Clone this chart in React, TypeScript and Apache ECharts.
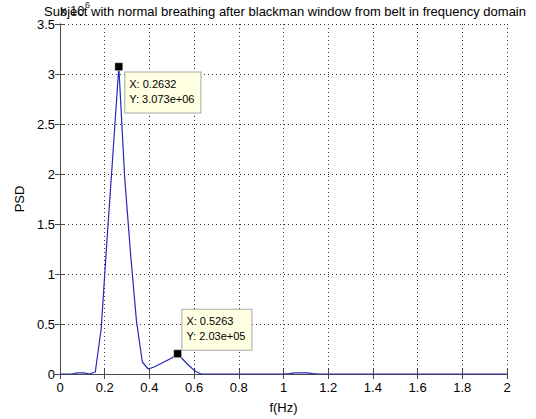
import React, { useEffect, useRef } from "react";
import * as echarts from "echarts";

// Frequency bins (Hz)
const freqs = [
  0, 0.0263, 0.0526, 0.0789, 0.1053, 0.1316, 0.1579, 0.1842, 0.2105, 0.2368,
  0.2632, 0.2895, 0.3158, 0.3421, 0.3684, 0.3947, 0.4211, 0.4474, 0.4737, 0.5,
  0.5263, 0.5526, 0.5789, 0.6053, 0.6316, 0.6579, 0.6842, 0.7105, 0.7368, 0.7632,
  0.7895, 0.8158, 0.8421, 0.8684, 0.8947, 0.9211, 0.9474, 0.9737, 1.0, 1.0263,
  1.0526, 1.0789, 1.1053, 1.1316, 1.1579, 1.1842, 1.2105, 1.2368, 1.2632, 1.2895,
  1.3158, 1.3421, 1.3684, 1.3947, 1.4211, 1.4474, 1.4737, 1.5, 1.5263, 1.5526,
  1.5789, 1.6053, 1.6316, 1.6579, 1.6842, 1.7105, 1.7368, 1.7632, 1.7895, 1.8158,
  1.8421, 1.8684, 1.8947, 1.9211, 1.9474, 1.9737, 2.0,
];

// PSD values
const psd = [
  0, 0, 0, 12000, 12000, 0, 20000, 450000, 1350000, 2200000,
  3073000, 1960000, 1200000, 530000, 120000, 50000, 70000, 100000, 130000, 160000,
  203000, 140000, 80000, 27000, 0, 0, 0, 0, 0, 0,
  0, 0, 0, 0, 0, 0, 0, 0, 0, 3000,
  12000, 12000, 12000, 3000, 0, 0, 0, 0, 0, 0,
  0, 0, 0, 0, 0, 0, 0, 0, 0, 0,
  0, 0, 0, 0, 0, 0, 0, 0, 0, 0,
  0, 0, 0, 0, 0, 0, 0,
];

// Data tips
const tipX = [0.2632, 0.5263];
const tipY = [3073000, 203000];
const tipOffsets = [
  [10.7, 10],
  [9, -39.7],
];

const yTicks = ["0", "0.5", "1", "1.5", "2", "2.5", "3", "3.5"];
const xTicks = ["0", "0.2", "0.4", "0.6", "0.8", "1", "1.2", "1.4", "1.6", "1.8", "2"];

const FONT = "'Liberation Sans', Arial, Helvetica, sans-serif";
const AXIS_COLOR = "#4a4a4a";
const LINE_COLOR = "#2626b8";

function fmtExp(v: number): string {
  const s = v.toExponential();
  return s.replace(/e([+-])(\d)$/, "e$10$2");
}

export default function App() {
  const ref = useRef<HTMLDivElement>(null);

  useEffect(() => {
    if (!ref.current) return;
    const chart = echarts.init(ref.current, undefined, { renderer: "svg" });

    const tipData = tipX.map((x, i) => ({
      coord: [x, tipY[i]],
      label: {
        show: true,
        position: tipOffsets[i],
        formatter: `X: ${x}\nY: ${fmtExp(tipY[i])}`,
        backgroundColor: "#ffffe1",
        borderColor: "#a8a8a8",
        borderWidth: 1,
        padding: [4, 6, 6, 4],
        fontSize: 11,
        lineHeight: 15,
        color: "#000",
        fontFamily: FONT,
      },
    }));

    const axisLine = { show: true, lineStyle: { color: AXIS_COLOR, width: 1 } };
    const axisTick = { show: true, inside: true, length: 5, lineStyle: { color: AXIS_COLOR } };
    const splitLine = { show: true, lineStyle: { color: "#333", width: 1, type: [1, 3] as any } };

    chart.setOption({
      animation: false,
      backgroundColor: "#fff",
      title: {
        text: "Subject with normal breathing after blackman window from belt in frequency domain",
        left: 280,
        textAlign: "center",
        top: 0,
        textStyle: { fontFamily: FONT, fontSize: 13, fontWeight: "normal", color: "#000" },
      },
      grid: { left: 60, right: 29, top: 24, bottom: 43, containLabel: false },
      xAxis: [
        {
          type: "value",
          min: 0,
          max: 2,
          interval: 0.2,
          axisLine,
          axisTick,
          splitLine,
          axisLabel: {
            color: "#000",
            fontFamily: FONT,
            fontSize: 13,
            margin: 7,
            formatter: (v: number) => xTicks[Math.round(v / 0.2)] ?? "",
          },
          name: "f(Hz)",
          nameLocation: "middle",
          nameGap: 27,
          nameTextStyle: { color: "#000", fontFamily: FONT, fontSize: 13 },
        },
        {
          type: "value",
          position: "top",
          min: 0,
          max: 2,
          interval: 0.2,
          axisLine,
          axisTick,
          splitLine: { show: false },
          axisLabel: { show: false },
        },
      ],
      yAxis: [
        {
          type: "value",
          min: 0,
          max: 3500000,
          interval: 500000,
          axisLine,
          axisTick,
          splitLine,
          axisLabel: {
            color: "#000",
            fontFamily: FONT,
            fontSize: 13,
            margin: 5,
            formatter: (v: number) => yTicks[Math.round(v / 500000)] ?? "",
          },
          name: "PSD",
          nameLocation: "middle",
          nameGap: 31,
          nameRotate: 90,
          nameTextStyle: { color: "#000", fontFamily: FONT, fontSize: 13 },
        },
        {
          type: "value",
          position: "right",
          min: 0,
          max: 3500000,
          interval: 500000,
          axisLine,
          axisTick,
          splitLine: { show: false },
          axisLabel: { show: false },
        },
      ],
      graphic: [
        {
          type: "text",
          left: 60,
          top: 4,
          style: {
            text: "x 10",
            fontSize: 13,
            fontFamily: FONT,
            fill: "#222",
          },
        },
        {
          type: "text",
          left: 85,
          top: 0,
          style: {
            text: "6",
            fontSize: 9,
            fontFamily: FONT,
            fill: "#222",
          },
        },
      ],
      series: [
        {
          type: "line",
          xAxisIndex: 0,
          yAxisIndex: 0,
          data: freqs.map((f, i) => [f, psd[i]]),
          showSymbol: false,
          lineStyle: { color: LINE_COLOR, width: 1.2 },
          itemStyle: { color: LINE_COLOR },
          markPoint: {
            symbol: "rect",
            symbolSize: 8,
            silent: true,
            itemStyle: { color: "#000", borderColor: "#fff", borderWidth: 0.5 },
            data: tipData,
          },
        },
      ],
    });

    return () => chart.dispose();
  }, []);

  return <div ref={ref} style={{ width: 536, height: 419, position: "absolute", left: 0, top: 0 }} />;
}
